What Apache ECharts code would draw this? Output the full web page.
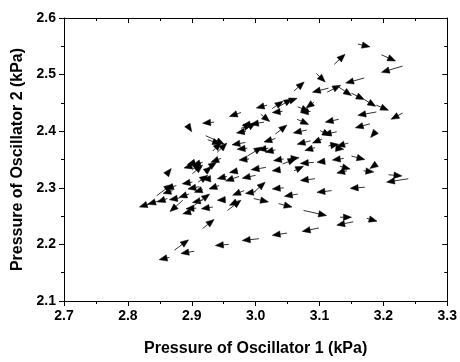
<!DOCTYPE html>
<html>
<head>
<meta charset="utf-8">
<script src="https://cdn.jsdelivr.net/npm/echarts@6/dist/echarts.min.js"></script>
<style>html,body{margin:0;padding:0;background:#fff}#c{width:460px;height:362px}</style>
</head>
<body>
<div id="c"></div>
<script>
// Arrow tails (kPa) and arrow components (kPa)
const xTail = [3.160,3.197,3.123,3.230,3.095,3.170,3.060,3.114,3.112,3.130,3.150,3.170,3.189,3.230,3.189,3.018,3.026,3.037,3.052,3.066,3.091,2.977,3.042,3.086,2.935,2.893,3.008,3.000,3.013,2.982,2.977,3.031,3.080,3.065,3.130,3.179,3.187,3.101,3.127,2.922,2.933,2.940,2.984,2.987,2.987,3.031,2.990,3.044,3.052,3.042,3.091,3.109,3.086,3.104,3.093,3.114,3.125,3.145,3.138,3.132,3.150,3.143,2.972,3.016,3.000,3.039,3.093,2.904,2.917,2.901,2.901,2.922,2.946,2.860,2.974,2.943,2.901,2.912,2.930,2.896,2.917,2.845,2.876,2.834,2.849,2.862,2.881,2.886,2.896,2.907,2.917,2.933,2.904,2.953,2.956,2.974,2.982,3.000,2.997,2.997,3.044,3.066,3.119,3.036,3.075,3.132,3.153,3.174,3.099,3.049,3.005,2.958,2.917,2.873,2.904,2.865,3.171,3.208,3.239,3.189,3.169,3.031,2.905,2.925,2.985,2.925,2.910,2.870,2.955,3.060,3.020];
const yTail = [2.554,2.535,2.518,2.515,2.502,2.494,2.471,2.476,2.469,2.478,2.467,2.456,2.446,2.432,2.434,2.446,2.440,2.444,2.453,2.443,2.451,2.433,2.435,2.435,2.416,2.411,2.430,2.414,2.416,2.402,2.405,2.395,2.402,2.421,2.421,2.413,2.398,2.401,2.399,2.392,2.365,2.363,2.380,2.370,2.356,2.367,2.351,2.351,2.351,2.342,2.345,2.347,2.383,2.386,2.371,2.374,2.370,2.379,2.352,2.338,2.356,2.330,2.330,2.336,2.322,2.332,2.316,2.340,2.345,2.332,2.325,2.329,2.352,2.323,2.320,2.304,2.310,2.302,2.316,2.289,2.297,2.286,2.304,2.272,2.277,2.281,2.282,2.278,2.257,2.264,2.278,2.266,2.269,2.279,2.260,2.277,2.295,2.293,2.281,2.292,2.300,2.289,2.295,2.272,2.260,2.248,2.240,2.246,2.229,2.220,2.210,2.200,2.228,2.190,2.188,2.177,2.301,2.323,2.316,2.342,2.330,2.387,2.345,2.335,2.400,2.385,2.310,2.295,2.320,2.330,2.370];
const dX = [0.019,0.022,0.017,-0.033,0.014,-0.029,0.016,-0.025,0.021,0.020,0.020,0.018,0.019,-0.018,-0.029,-0.017,0.017,0.020,0.013,0.018,-0.012,-0.018,-0.016,-0.016,-0.018,0.007,0.014,-0.021,-0.021,0.018,0.017,0.018,-0.021,0.018,-0.021,-0.023,-0.007,0.016,-0.021,0.029,0.013,0.015,-0.021,-0.016,0.023,-0.016,-0.016,-0.016,0.016,0.021,-0.021,-0.013,-0.021,-0.015,-0.016,0.016,0.013,-0.018,-0.018,0.016,0.021,-0.016,-0.013,-0.023,-0.021,-0.013,-0.023,-0.016,-0.016,0.013,0.016,0.009,-0.016,0.008,-0.021,-0.016,-0.016,-0.018,-0.013,-0.016,-0.013,0.024,-0.017,-0.016,-0.018,-0.016,-0.016,-0.020,-0.010,-0.016,-0.016,-0.018,0.024,-0.013,0.021,-0.015,-0.018,-0.016,0.023,0.018,-0.018,-0.021,-0.023,0.021,0.036,0.018,-0.026,0.016,-0.026,-0.023,-0.026,-0.021,0.018,0.022,-0.021,-0.016,-0.023,0.021,-0.034,-0.010,0.016,-0.018,-0.012,0.014,-0.015,0.020,0.015,-0.015,-0.015,0.015,-0.016];
const dY = [-0.005,-0.011,0.018,-0.011,-0.015,-0.009,0.016,-0.007,0.012,-0.015,-0.011,-0.012,-0.009,-0.011,-0.006,-0.005,0.013,0.013,0.005,-0.008,-0.010,-0.007,-0.002,-0.002,-0.002,-0.012,-0.013,-0.004,-0.004,0.013,0.007,0.016,-0.005,-0.009,-0.005,-0.007,-0.009,-0.009,-0.005,-0.015,0.015,0.016,-0.004,-0.002,0.016,-0.004,-0.002,-0.003,0.002,0.009,-0.002,-0.002,-0.006,-0.007,-0.005,0.003,-0.002,-0.006,-0.003,-0.005,-0.006,-0.004,-0.003,-0.004,-0.005,-0.002,-0.003,-0.005,-0.005,0.012,0.015,0.008,-0.007,0.011,-0.008,-0.006,-0.003,-0.004,-0.001,-0.006,-0.005,0.020,-0.006,-0.006,-0.006,-0.006,-0.003,-0.020,-0.003,-0.001,-0.004,-0.003,0.020,-0.001,0.018,-0.008,-0.008,-0.003,-0.006,0.018,-0.002,-0.004,-0.003,-0.006,-0.009,0.000,-0.006,-0.005,-0.006,-0.004,-0.003,-0.002,0.016,0.018,-0.004,-0.004,-0.002,-0.002,-0.006,-0.008,-0.002,-0.006,-0.004,0.010,-0.003,-0.008,0.012,-0.005,-0.004,0.008,-0.003];

const xTicks = [2.7, 3.3, 0.1];
const yTicks = [2.1, 2.6, 0.1];
const xName = 'Pressure of Oscillator 1 (kPa)';
const yName = 'Pressure of Oscillator 2 (kPa)';

const FONT = '"Liberation Sans", Arial, sans-serif';
const chart = echarts.init(document.getElementById('c'), null, {renderer: 'canvas'});
const data = xTail.map((x, i) => [x, yTail[i], dX[i], dY[i]]);

function axisCommon(mirror) {
  return {
    axisLine: {show: true, onZero: false, lineStyle: {color: '#000', width: 1}},
    axisTick: {show: true, inside: mirror, length: 5, lineStyle: {color: '#000', width: 1}},
    minorTick: {show: true, splitNumber: 2, length: 3, lineStyle: {color: '#000', width: 1}},
    splitLine: {show: false},
    minorSplitLine: {show: false}
  };
}

const option = {
  animation: false,
  backgroundColor: '#fff',
  grid: {left: 64, right: 11, top: 18, bottom: 59, containLabel: false},
  xAxis: [
    Object.assign({
      type: 'value', position: 'bottom', min: xTicks[0], max: xTicks[1], interval: xTicks[2],
      name: xName, nameLocation: 'middle', nameGap: 40,
      nameTextStyle: {fontFamily: FONT, fontWeight: 'bold', fontSize: 16, color: '#000'},
      axisLabel: {show: true, margin: 8, fontFamily: FONT, fontWeight: 'bold', fontSize: 14, color: '#000',
        formatter: v => v.toFixed(1)}
    }, axisCommon(false)),
    Object.assign({
      type: 'value', position: 'top', min: xTicks[0], max: xTicks[1], interval: xTicks[2],
      axisLabel: {show: false}
    }, axisCommon(true))
  ],
  yAxis: [
    Object.assign({
      type: 'value', position: 'left', min: yTicks[0], max: yTicks[1], interval: yTicks[2],
      name: yName, nameLocation: 'middle', nameGap: 34, nameRotate: 90,
      nameTextStyle: {fontFamily: FONT, fontWeight: 'bold', fontSize: 16, color: '#000'},
      axisLabel: {show: true, margin: 8, fontFamily: FONT, fontWeight: 'bold', fontSize: 14, color: '#000',
        formatter: v => v.toFixed(1)}
    }, axisCommon(false)),
    Object.assign({
      type: 'value', position: 'right', min: yTicks[0], max: yTicks[1], interval: yTicks[2],
      axisLabel: {show: false}
    }, axisCommon(true))
  ],
  series: [{
    type: 'custom',
    xAxisIndex: 0, yAxisIndex: 0,
    data: data,
    encode: {x: 0, y: 1},
    clip: true,
    renderItem: function (params, api) {
      const x = api.value(0), y = api.value(1), u = api.value(2), v = api.value(3);
      const p0 = api.coord([x, y]);
      const p1 = api.coord([x + u, y + v]);
      const ang = Math.atan2(p1[1] - p0[1], p1[0] - p0[0]);
      const L = 8, W = 3.2;
      const c = Math.cos(ang), s = Math.sin(ang);
      const b = [p1[0] - L * c, p1[1] - L * s];
      const left = [b[0] - W * s, b[1] + W * c];
      const right = [b[0] + W * s, b[1] - W * c];
      return {
        type: 'group',
        children: [
          {type: 'line', shape: {x1: p0[0], y1: p0[1], x2: b[0], y2: b[1]},
            style: {stroke: '#333', lineWidth: 1}},
          {type: 'polygon', shape: {points: [p1, left, right]}, style: {fill: '#000', stroke: '#000', lineWidth: 0.5}}
        ]
      };
    }
  }]
};
chart.setOption(option);
</script>
</body>
</html>
